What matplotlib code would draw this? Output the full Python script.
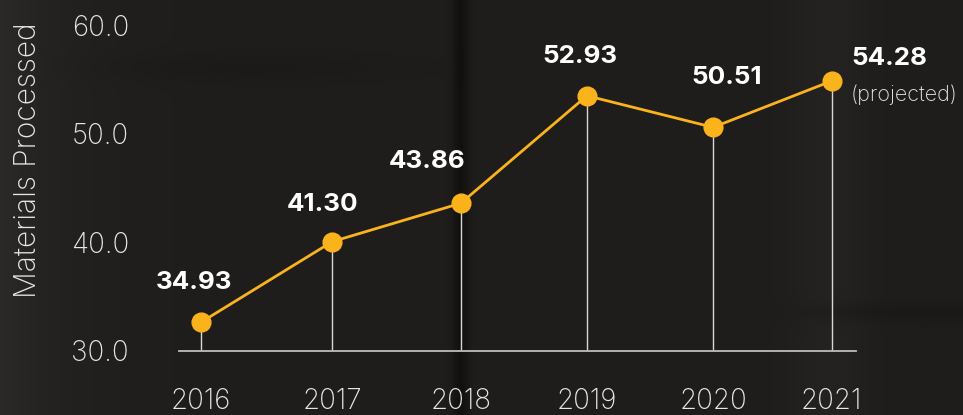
import numpy as np
import matplotlib
matplotlib.use("Agg")
import matplotlib.pyplot as plt

# ---- data ----
years = ["2016", "2017", "2018", "2019", "2020", "2021"]
x_values = [2016.0, 2017.04, 2018.06, 2019.06, 2020.06, 2021.0]
values = [32.6, 40.03, 43.57, 53.48, 50.57, 54.84]
value_labels = ["34.93", "41.30", "43.86", "52.93", "50.51", "54.28"]
y_ticks = [30.0, 40.0, 50.0, 60.0]
y_label = "Materials Processed"
note = "(projected)"

# ---- style ----
ORANGE = "#fbb31b"
TEXT = "#e6e6e6"
W, H, DPI = 963, 415, 100

fig = plt.figure(figsize=(W / DPI, H / DPI), dpi=DPI)

# background (dark photo-like gradient)
bg_ax = fig.add_axes([0, 0, 1, 1], zorder=0)
xs = np.linspace(0, 1, W)
base = np.full(W, 0.115)
base += 0.05 * np.exp(-xs / 0.06)            # lighter left edge
base -= 0.05 * np.exp(-((xs - 0.478) / 0.008) ** 2)  # dark vertical band
base += 0.02 * np.exp(-((xs - 0.86) / 0.04) ** 2)
img = np.zeros((H, W, 3))
img[:, :, 0] = base + 0.008
img[:, :, 1] = base + 0.0
img[:, :, 2] = base - 0.008
ys = np.arange(H)[:, None]
band = np.exp(-((ys - 312) / 10.0) ** 2) * np.clip((xs[None, :] - 0.8) / 0.06, 0, 1)
img -= 0.015 * band[:, :, None]
band2 = np.exp(-((ys - 68) / 14.0) ** 2) * np.exp(-((xs[None, :] - 0.25) / 0.15) ** 2)
img -= 0.012 * band2[:, :, None]
bg_ax.imshow(np.clip(img, 0, 1), aspect="auto", extent=[0, 1, 0, 1])
bg_ax.axis("off")

ax = fig.add_axes([179 / W, (H - 350.5) / H, (856 - 179) / W, (350.5 - 25) / H], zorder=1)
ax.patch.set_alpha(0)
ax.set_xlim(2015.826, 2021.193)
ax.set_ylim(30, 60)

# stems
ax.vlines(x_values, 30, values, color="#d8d8d8", lw=1.0, zorder=2)
# line + markers
ax.plot(x_values, values, color=ORANGE, lw=2.0, zorder=3)
ax.plot(x_values, values, "o", color=ORANGE, ms=13.5, zorder=4)

# labels
offsets = [(-5, 29), (-7, 27), (-24, 30), (-5, 28), (10, 36), (14, 16)]
for i, (xv, yv, lab) in enumerate(zip(x_values, values, value_labels)):
    dx, dy = offsets[i]
    ha = "left" if i == len(values) - 1 else "center"
    ax.annotate(lab, (xv, yv), xytext=(dx, dy), textcoords="offset points",
                ha=ha, va="center", fontsize=18.7, fontweight="bold",
                color="white", family=["Inter", "DejaVu Sans"], zorder=5)
ax.annotate(note, (x_values[-1], values[-1]), xytext=(14, -10), textcoords="offset points",
            ha="left", va="center", fontsize=15.5, fontweight="light",
            color=TEXT, family=["Inter", "DejaVu Sans"], zorder=5)

# axes styling
for s in ["top", "right", "left"]:
    ax.spines[s].set_visible(False)
ax.spines["bottom"].set_color("#bdbdbd")
ax.spines["bottom"].set_linewidth(1.3)
ax.set_xticks(x_values)
ax.set_xticklabels(years)
ax.set_yticks(y_ticks)
ax.set_yticklabels([f"{t:.1f}" for t in y_ticks])
ax.tick_params(axis="x", length=0, colors=TEXT, labelsize=20, pad=27)
ax.tick_params(axis="y", length=0, colors=TEXT, labelsize=20, pad=36)
for t in ax.get_xticklabels() + ax.get_yticklabels():
    t.set_family(["Inter", "DejaVu Sans"])
    t.set_fontweight("light")

fig.text(28 / W, 1 - 160 / H, y_label, rotation=90, ha="center", va="center",
         fontsize=21.5, fontweight="light", color=TEXT, family=["Inter", "DejaVu Sans"])

fig.savefig("out.png", dpi=DPI)
